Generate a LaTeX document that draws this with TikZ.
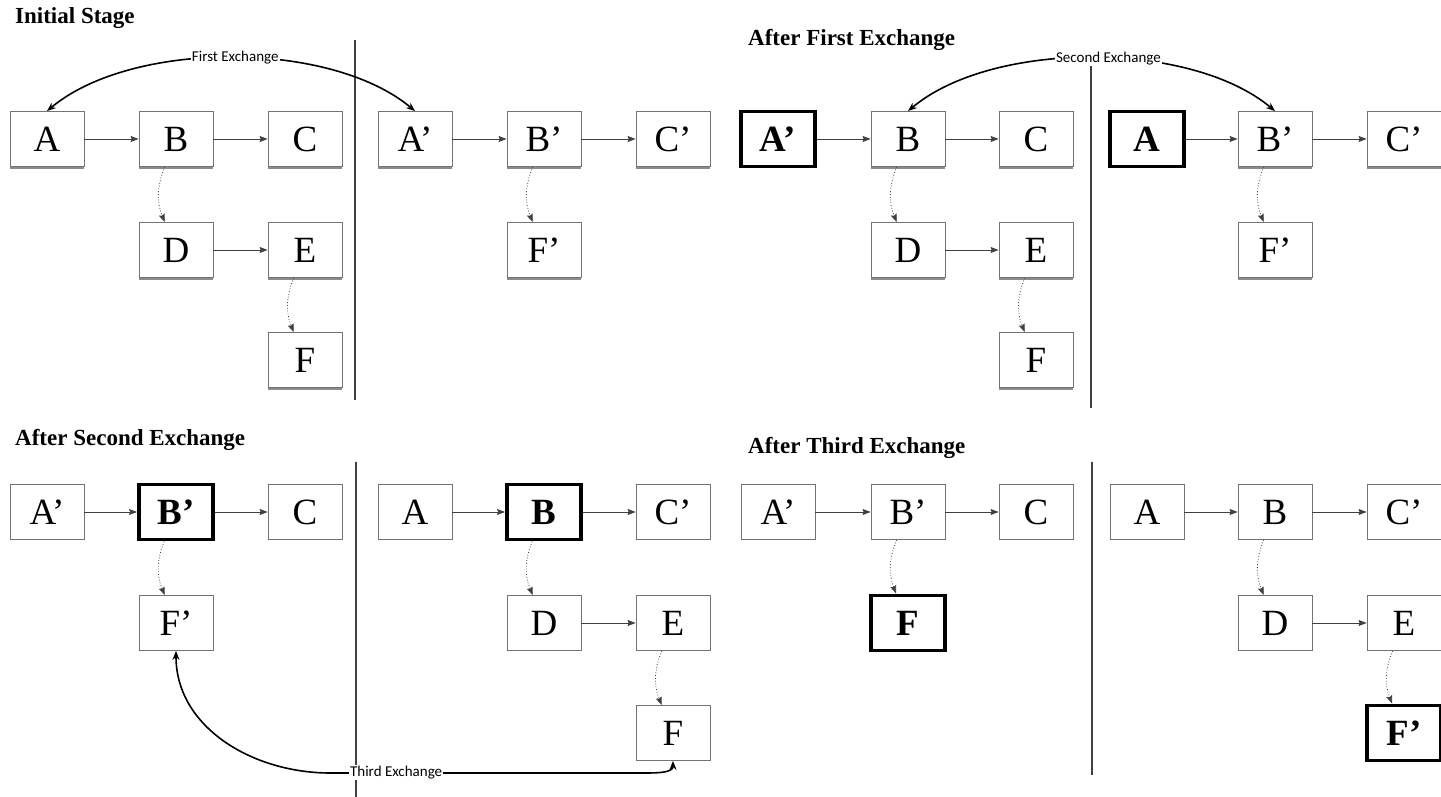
\documentclass[tikz,border=0pt]{standalone}
\usepackage{fontspec}
\setmainfont{Liberation Serif}
\newfontfamily\calfont{Carlito}
\usetikzlibrary{arrows.meta}

\tikzset{
  box/.style={draw=black!55, line width=0.8pt, minimum width=74pt, minimum height=55pt,
    inner sep=0pt, font=\fontsize{37}{37}\selectfont},
  boxs/.style={box, append after command={([yshift=-1.2pt]\tikzlastnode.south west)
    edge[draw=black!45, line width=1.6pt] ([yshift=-1.2pt]\tikzlastnode.south east)}},
  boxb/.style={box, draw=black, line width=3.8pt, font=\fontsize{37}{37}\selectfont\bfseries},
  link/.style={draw=black!75, line width=0.8pt, arrows={-Stealth[length=8pt,width=6pt,inset=1pt]}},
  sublink/.style={link, dotted, bend right=22},
  xchg/.style={line width=1.6pt, arrows={Stealth[length=9pt,width=7pt]-Stealth[length=9pt,width=7pt]}},
  xchlabel/.style={fill=white, inner sep=1pt, font=\calfont\fontsize{15}{15}\selectfont},
  stagetitle/.style={anchor=west, inner sep=0pt, font=\fontsize{23}{23}\selectfont\bfseries},
  divider/.style={draw=black!75, line width=2.6pt}
}

\begin{document}
\begin{tikzpicture}[x=1pt,y=1pt]
  \useasboundingbox (0,0) rectangle (1441,797);

  % Initial Stage
  \node[stagetitle] (t0) at (15,779) {Initial Stage};
  \node[boxs] (a1) at (47,658) {A};
  \node[boxs] (b1) at (176,658) {B};
  \node[boxs] (c1) at (305,658) {C};
  \node[boxs] (d1) at (176,547) {D};
  \node[boxs] (e1) at (305,547) {E};
  \node[boxs] (f1) at (305,437) {F};
  \draw[divider] (355,757) -- (355,397);
  \node[boxs] (a1p) at (415,658) {A’};
  \node[boxs] (b1p) at (544,658) {B’};
  \node[boxs] (c1p) at (673,658) {C’};
  \node[boxs] (f1p) at (544,547) {F’};

  \draw[link] (a1) -- (b1);
  \draw[link] (b1) -- (c1);
  \draw[link] (d1) -- (e1);
  \draw[sublink] (b1) to (d1);
  \draw[sublink] (e1) to (f1);
  \draw[link] (a1p) -- (b1p);
  \draw[link] (b1p) -- (c1p);
  \draw[sublink] (b1p) to (f1p);

  \draw[xchg] (a1.north) to[out=40,in=140,looseness=0.77]
    node[xchlabel, pos=0.51] {First Exchange} (a1p.north);

  % After First Exchange
  \node[stagetitle] (t1) at (748,757) {After First Exchange};
  \node[boxb] (a2p) at (778,658) {A’};
  \node[boxs] (b2) at (908,658) {B};
  \node[boxs] (c2) at (1036,658) {C};
  \node[boxs] (d2) at (908,547) {D};
  \node[boxs] (e2) at (1036,547) {E};
  \node[boxs] (f2) at (1036,437) {F};
  \draw[divider] (1091,735) -- (1091,389);
  \node[boxb] (a2) at (1147,658) {A};
  \node[boxs] (b2p) at (1275,658) {B’};
  \node[boxs] (c2p) at (1404,658) {C’};
  \node[boxs] (f2p) at (1275,547) {F’};

  \draw[link] (a2p) -- (b2);
  \draw[link] (b2) -- (c2);
  \draw[link] (d2) -- (e2);
  \draw[sublink] (b2) to (d2);
  \draw[sublink] (e2) to (f2);
  \draw[link] (a2) -- (b2p);
  \draw[link] (b2p) -- (c2p);
  \draw[sublink] (b2p) to (f2p);

  \draw[xchg] (b2.north) to[out=40,in=140,looseness=0.77]
    node[xchlabel, pos=0.54] {Second Exchange} (b2p.north);

  % After Second Exchange
  \node[stagetitle] (t2) at (15,357) {After Second Exchange};
  \node[box] (a3p) at (47,285) {A’};
  \node[boxb] (b3p) at (176,285) {B’};
  \node[box] (c3) at (305,285) {C};
  \node[box] (f3p) at (176,174) {F’};
  \draw[divider] (356,335) -- (356,0);
  \node[box] (a3) at (415,285) {A};
  \node[boxb] (b3) at (544,285) {B};
  \node[box] (c3p) at (673,285) {C’};
  \node[box] (d3) at (544,174) {D};
  \node[box] (e3) at (673,174) {E};
  \node[box] (f3) at (673,64) {F};

  \draw[link] (a3p) -- (b3p);
  \draw[link] (b3p) -- (c3);
  \draw[sublink] (b3p) to (f3p);
  \draw[link] (a3) -- (b3);
  \draw[link] (b3) -- (c3p);
  \draw[link] (d3) -- (e3);
  \draw[sublink] (b3) to (d3);
  \draw[sublink] (e3) to (f3);

  \coordinate (x1) at (330,24);
  \coordinate (x2) at (645,24);
  \draw[xchg] (f3p.south) to[out=-90,in=180] (x1)
    -- node[xchlabel, pos=0.21] {Third Exchange} (x2) to[out=0,in=-90] (f3.south);

  % After Third Exchange
  \node[stagetitle] (t3) at (748,349) {After Third Exchange};
  \node[box] (a4p) at (778,285) {A’};
  \node[box] (b4p) at (908,285) {B’};
  \node[box] (c4) at (1036,285) {C};
  \node[boxb] (f4) at (908,174) {F};
  \draw[divider] (1092,335) -- (1092,22);
  \node[box] (a4) at (1147,285) {A};
  \node[box] (b4) at (1275,285) {B};
  \node[box] (c4p) at (1404,285) {C’};
  \node[box] (d4) at (1275,174) {D};
  \node[box] (e4) at (1404,174) {E};
  \node[boxb] (f4p) at (1404,64) {F’};

  \draw[link] (a4p) -- (b4p);
  \draw[link] (b4p) -- (c4);
  \draw[sublink] (b4p) to (f4);
  \draw[link] (a4) -- (b4);
  \draw[link] (b4) -- (c4p);
  \draw[link] (d4) -- (e4);
  \draw[sublink] (b4) to (d4);
  \draw[sublink] (e4) to (f4p);

\end{tikzpicture}
\end{document}
